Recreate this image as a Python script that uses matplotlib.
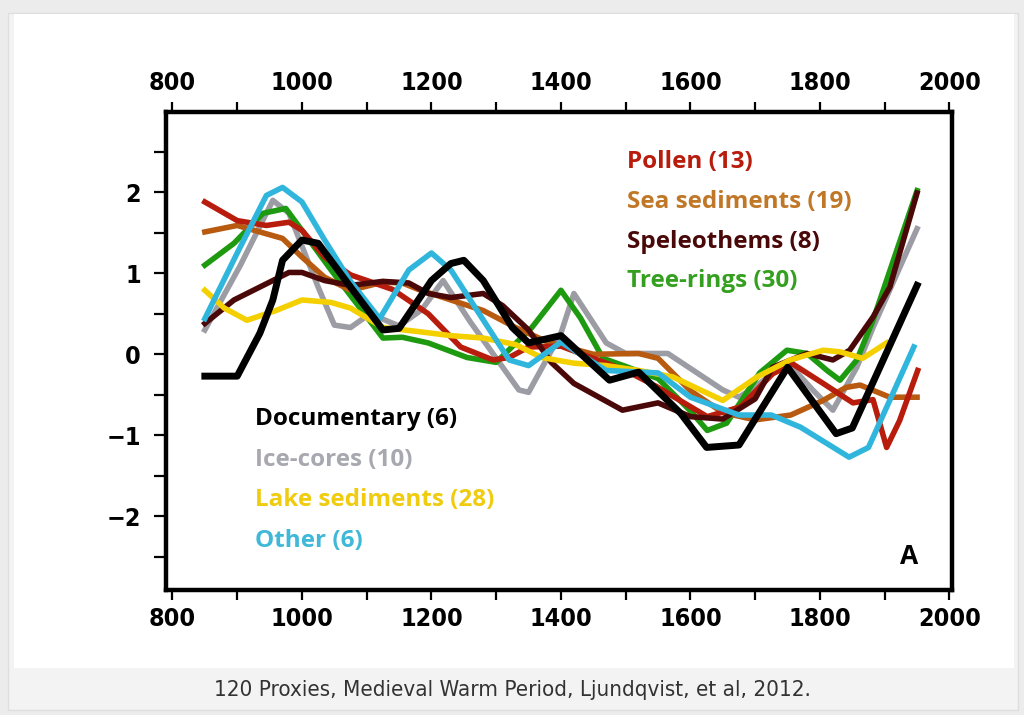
import numpy as np
import matplotlib.pyplot as plt
from matplotlib.patches import Rectangle

# proxy composites (year, standardised anomaly)
pollen_yr = [850, 900, 945, 980, 1000, 1035, 1075, 1140, 1195, 1245, 1295, 1320, 1350, 1400, 1450,
             1500, 1548, 1626, 1677, 1727, 1758, 1805, 1851, 1882, 1903, 1923, 1951]
pollen = [1.88, 1.65, 1.59, 1.63, 1.53, 1.2, 0.98, 0.8, 0.5, 0.09, -0.07, -0.04, 0.09, 0.1, -0.05,
          -0.2, -0.4, -0.77, -0.65, -0.24, -0.12, -0.36, -0.6, -0.56, -1.15, -0.82, -0.2]

sea_yr = [850, 900, 970, 1000, 1035, 1075, 1125, 1155, 1180, 1230, 1280, 1330, 1380, 1450,
          1520, 1550, 1600, 1650, 1700, 1755, 1805, 1840, 1862, 1908, 1950]
sea = [1.51, 1.59, 1.43, 1.2, 0.95, 0.79, 0.89, 0.88, 0.8, 0.67, 0.54, 0.33, 0.15, 0.0,
       0.01, -0.05, -0.45, -0.72, -0.81, -0.75, -0.57, -0.41, -0.38, -0.53, -0.53]

spel_yr = [850, 895, 935, 980, 1000, 1035, 1075, 1125, 1165, 1195, 1230, 1280, 1310, 1350, 1385,
           1420, 1495, 1550, 1600, 1650, 1700, 1727, 1780, 1820, 1846, 1882, 1908, 1950]
spel = [0.38, 0.67, 0.83, 1.01, 1.01, 0.91, 0.85, 0.9, 0.88, 0.75, 0.7, 0.75, 0.6, 0.3, -0.1,
        -0.36, -0.69, -0.6, -0.77, -0.8, -0.55, -0.16, 0.01, -0.07, 0.05, 0.46, 0.83, 1.99]

tree_yr = [850, 895, 940, 975, 1000, 1045, 1125, 1155, 1195, 1255, 1300, 1355, 1400, 1430, 1465,
           1500, 1550, 1600, 1626, 1656, 1707, 1749, 1780, 1811, 1831, 1857, 1882, 1950]
tree = [1.1, 1.37, 1.74, 1.8, 1.53, 1.04, 0.2, 0.21, 0.14, -0.04, -0.1, 0.33, 0.79, 0.45, -0.05,
        -0.15, -0.3, -0.7, -0.94, -0.85, -0.23, 0.05, 0.01, -0.2, -0.32, -0.07, 0.42, 2.02]

doc_yr = [850, 900, 935, 955, 970, 1000, 1025, 1075, 1125, 1150, 1200, 1230, 1250, 1280, 1325,
          1350, 1400, 1475, 1520, 1585, 1625, 1675, 1750, 1825, 1850, 1950]
doc = [-0.27, -0.27, 0.26, 0.67, 1.16, 1.41, 1.37, 0.83, 0.3, 0.32, 0.91, 1.12, 1.16, 0.91, 0.33,
       0.14, 0.23, -0.32, -0.22, -0.73, -1.15, -1.12, -0.16, -0.98, -0.91, 0.85]

ice_yr = [850, 905, 955, 980, 1025, 1050, 1075, 1105, 1150, 1185, 1218, 1260, 1310, 1335, 1350,
          1400, 1420, 1470, 1500, 1565, 1650, 1675, 1700, 1750, 1790, 1820, 1857, 1882, 1950]
ice = [0.3, 1.1, 1.9, 1.74, 0.83, 0.36, 0.33, 0.5, 0.35, 0.55, 0.91, 0.4, -0.16, -0.44, -0.47,
       0.26, 0.75, 0.14, 0.01, 0.01, -0.44, -0.53, -0.4, -0.1, -0.45, -0.69, -0.16, 0.33, 1.55]

lake_yr = [850, 880, 915, 960, 1000, 1045, 1075, 1125, 1180, 1230, 1280, 1330, 1370, 1420, 1470,
           1520, 1573, 1650, 1703, 1754, 1805, 1831, 1866, 1903]
lake = [0.79, 0.57, 0.42, 0.54, 0.67, 0.64, 0.57, 0.33, 0.28, 0.23, 0.2, 0.12, -0.04, -0.11, -0.14,
        -0.2, -0.28, -0.57, -0.28, -0.07, 0.05, 0.03, -0.05, 0.14]

other_yr = [850, 900, 945, 970, 1000, 1035, 1075, 1120, 1165, 1200, 1230, 1320, 1350, 1400, 1470,
            1550, 1600, 1675, 1725, 1770, 1845, 1875, 1945]
other = [0.44, 1.25, 1.96, 2.06, 1.88, 1.41, 0.9, 0.44, 1.04, 1.25, 1.04, -0.07, -0.14, 0.15, -0.2,
         -0.23, -0.53, -0.75, -0.75, -0.9, -1.27, -1.15, 0.09]

labels_top = ["Pollen (13)", "Sea sediments (19)", "Speleothems (8)", "Tree-rings (30)"]
labels_bot = ["Documentary (6)", "Ice-cores (10)", "Lake sediments (28)", "Other (6)"]

c_pollen, c_sea, c_spel, c_tree = "#b81c0c", "#b85a10", "#4a0808", "#1e9a10"
c_doc, c_ice, c_lake, c_other = "black", "#9c9ca4", "#f5d000", "#30b6dc"

cond = dict(family="DejaVu Sans", fontstretch="condensed")

fig = plt.figure(figsize=(10.24, 7.15), dpi=100, facecolor="#ececec")
# white card + caption band
fig.patches.append(Rectangle((8 / 1024, 5 / 715), 1010 / 1024, 697 / 715, transform=fig.transFigure,
                             facecolor="#f3f3f3", edgecolor="#dedede", lw=1, zorder=-10))
fig.patches.append(Rectangle((14 / 1024, 47 / 715), 1000 / 1024, 654 / 715, transform=fig.transFigure,
                             facecolor="white", edgecolor="none", zorder=-9))

ax = fig.add_axes([0.1621, 0.1748, 0.7676, 0.6685])
ax.set_zorder(5)
ax.patch.set_alpha(0)

lw = 4.0
ax.plot(ice_yr, ice, color=c_ice, lw=lw, solid_joinstyle="round")
ax.plot(tree_yr, tree, color=c_tree, lw=lw, solid_joinstyle="round")
ax.plot(sea_yr, sea, color=c_sea, lw=lw, solid_joinstyle="round")
ax.plot(pollen_yr, pollen, color=c_pollen, lw=lw, solid_joinstyle="round")
ax.plot(spel_yr, spel, color=c_spel, lw=lw, solid_joinstyle="round")
ax.plot(lake_yr, lake, color=c_lake, lw=lw, solid_joinstyle="round")
ax.plot(other_yr, other, color=c_other, lw=lw, solid_joinstyle="round")
ax.plot(doc_yr, doc, color=c_doc, lw=5.0, solid_joinstyle="round")

ax.set_xlim(790, 2004)
ax.set_ylim(-2.91, 2.99)
ax.set_xticks(np.arange(800, 2001, 200))
ax.set_xticks(np.arange(900, 2000, 200), minor=True)
ax.set_yticks([-2, -1, 0, 1, 2])
ax.set_yticks(np.arange(-2.5, 3, 1), minor=True)
ax.set_yticklabels(["\u22122", "\u22121", "0", "1", "2"])

for s in ax.spines.values():
    s.set_linewidth(3.2)
ax.tick_params(which="both", direction="out", width=1.6, length=7, top=True, labeltop=True,
               right=False, pad=5, labelsize=18)
ax.tick_params(axis="y", which="both", length=9, pad=9)
for t in ax.xaxis.get_major_ticks() + ax.yaxis.get_major_ticks():
    for lab in (t.label1, t.label2):
        lab.set_fontweight("bold")
        lab.set_fontstretch("condensed")

cols_top = [c_pollen, "#c07828", c_spel, "#35a020"]
for i, (txt, c) in enumerate(zip(labels_top, cols_top)):
    ax.text(1502, 2.37 - 0.49 * i, txt, color=c, fontsize=17.5, fontweight="bold",
            family="Open Sans", va="center", ha="left")
cols_bot = [c_doc, "#a8a8b0", "#f0cc10", "#40b8d8"]
for i, (txt, c) in enumerate(zip(labels_bot, cols_bot)):
    ax.text(927, -0.8 - 0.5 * i, txt, color=c, fontsize=17.5, fontweight="bold",
            family="Open Sans", va="center", ha="left")

ax.text(0.945, 0.07, "A", transform=ax.transAxes, fontsize=19, fontweight="bold",
        family="Open Sans", ha="center", va="center")

fig.text(0.5, 0.035, "120 Proxies, Medieval Warm Period, Ljundqvist, et al, 2012.",
         ha="center", va="center", fontsize=16, color="#333333", **cond)

fig.savefig("out.png", dpi=100, facecolor=fig.get_facecolor())
